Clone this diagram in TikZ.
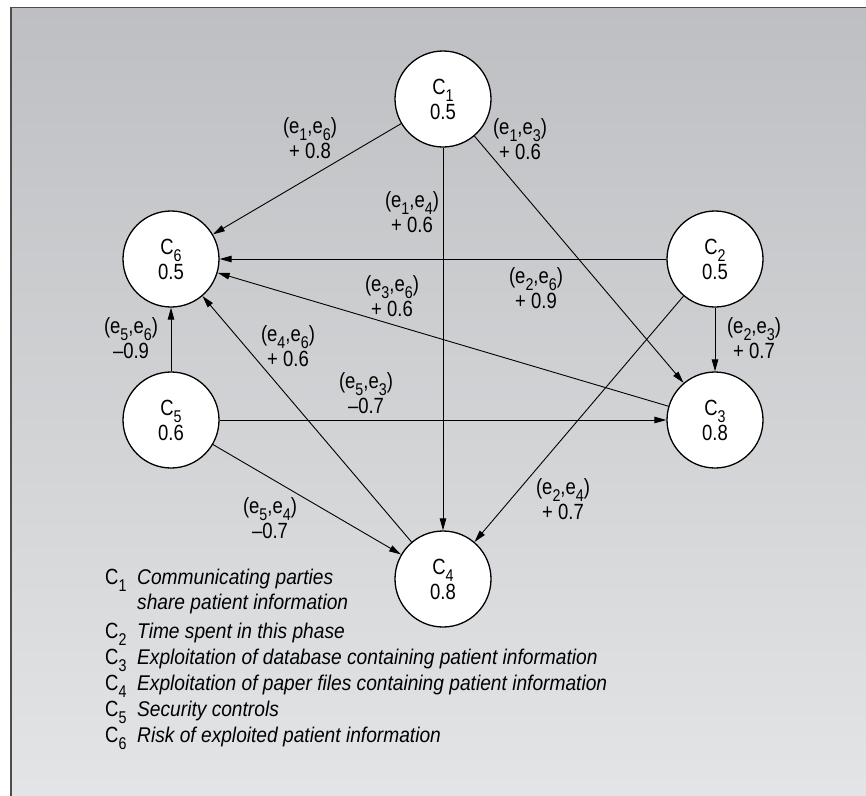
\documentclass[tikz,border=0pt]{standalone}
\usepackage{fontspec}
\setmainfont{Liberation Sans}[FakeStretch=0.84]
\newfontfamily\legendfont{Liberation Sans}[FakeStretch=0.9]
\usetikzlibrary{arrows.meta}
\definecolor{bgtop}{HTML}{BEBFC2}
\definecolor{bgbottom}{HTML}{E4E5E7}
\definecolor{framegray}{HTML}{4D4D4D}
\newcommand{\idx}[1]{\raisebox{-7pt}{\fontsize{17}{17}\selectfont #1}}

\begin{document}
\begin{tikzpicture}[
    x=1pt, y=-1pt,
    concept/.style={circle, draw, line width=1.3pt, fill=white, minimum size=96pt, inner sep=0pt, align=center, font=\fontsize{22}{25}\selectfont},
    arrow/.style={-{Triangle[length=12pt,width=6.5pt]}, line width=0.9pt},
    weight/.style={align=center, inner sep=0pt, font=\fontsize{22}{25}\selectfont},
    key/.style={anchor=base west, inner sep=0pt, font=\fontsize{22}{24}\selectfont},
    descr/.style={anchor=base west, inner sep=0pt, font=\fontsize{21.3}{24}\legendfont\itshape}
]
    \useasboundingbox (0,0) rectangle (866,795);
    \clip (0,0) rectangle (866,795);
    \shade[top color=bgtop, bottom color=bgbottom, draw=framegray, line width=1.5pt] (11,7.5) rectangle (880,810);

    % concepts
    \node[concept] (c1) at (443,99) {C\idx{1}\\0.5};
    \node[concept] (c6) at (171,259) {C\idx{6}\\0.5};
    \node[concept] (c2) at (715,259) {C\idx{2}\\0.5};
    \node[concept] (c5) at (171,420) {C\idx{5}\\0.6};
    \node[concept] (c3) at (715,420) {C\idx{3}\\0.8};
    \node[concept] (c4) at (443,579) {C\idx{4}\\0.8};

    % causal links
    \draw[arrow] (c1) -- (c6);
    \draw[arrow] (c1) -- (c3);
    \draw[arrow] (c1) -- (c4);
    \draw[arrow] (c2) -- (c6);
    \draw[arrow] (c2) -- (c3);
    \draw[arrow] (c2) -- (c4);
    \draw[arrow] (c3) -- (c6);
    \draw[arrow] (c4) -- (c6);
    \draw[arrow] (c5) -- (c6);
    \draw[arrow] (c5) -- (c3);
    \draw[arrow] (c5) -- (c4);

    % weights
    \node[weight] (w16) at (310,138) {(e\idx{1},e\idx{6})\\+ 0.8};
    \node[weight] (w13) at (520,139) {(e\idx{1},e\idx{3})\\+ 0.6};
    \node[weight] (w14) at (412,212) {(e\idx{1},e\idx{4})\\+ 0.6};
    \node[weight] (w26) at (536,288) {(e\idx{2},e\idx{6})\\+ 0.9};
    \node[weight] (w36) at (392,296) {(e\idx{3},e\idx{6})\\+ 0.6};
    \node[weight] (w23) at (754,338) {(e\idx{2},e\idx{3})\\+ 0.7};
    \node[weight] (w56) at (131,338) {(e\idx{5},e\idx{6})\\--0.9};
    \node[weight] (w46) at (288,346) {(e\idx{4},e\idx{6})\\+ 0.6};
    \node[weight] (w53) at (366,393) {(e\idx{5},e\idx{3})\\--0.7};
    \node[weight] (w54) at (270,518) {(e\idx{5},e\idx{4})\\--0.7};
    \node[weight] (w24) at (563,499) {(e\idx{2},e\idx{4})\\+ 0.7};

    % legend
    \node[key] (k1) at (105,584) {C\idx{1}};
    \node[descr] (d1) at (137,584) {Communicating parties};
    \node[descr] (d1b) at (137,609) {share patient information};
    \foreach \i/\y/\txt in {2/638/Time spent in this phase,
                            3/664/Exploitation of database containing patient information,
                            4/690/Exploitation of paper files containing patient information,
                            5/716/Security controls,
                            6/742/Risk of exploited patient information}{
        \node[key] (k\i) at (105,\y) {C\idx{\i}};
        \node[descr] (d\i) at (137,\y) {\txt};
    }
\end{tikzpicture}
\end{document}
